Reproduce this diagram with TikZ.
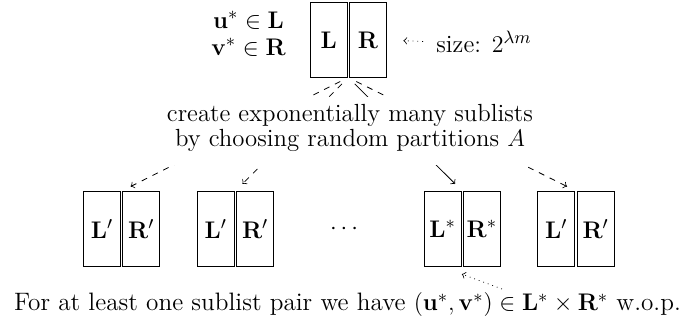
\documentclass[tikz,border=0pt]{standalone}
\usepackage{amsmath}
\usetikzlibrary{calc}
\tikzset{
  every node/.style={font=\fontsize{12.4pt}{14pt}\selectfont},
  lbox/.style={draw, line width=0.5pt, minimum width=18.5pt, minimum height=37.5pt, inner sep=0pt},
  fan/.style={->, dashed, shorten <=4.5pt, shorten >=5pt},
  fansolid/.style={->, shorten <=4.5pt, shorten >=5pt},
  txt/.style={inner sep=0pt, align=center}
}
\begin{document}
\begin{tikzpicture}[x=0.5pt,y=-0.5pt]
\useasboundingbox (0,0) rectangle (687,325);
% top pair
\node[lbox] (L) at (328.7,40) {$\mathbf{L}$};
\node[lbox] (R) at (368,40) {$\mathbf{R}$};
\coordinate (top) at (348.3,77.5);
\node[txt, font=\fontsize{12.4pt}{13.5pt}\selectfont] (uv) at (248.5,33.5) {$\mathbf{u}^*\in\mathbf{L}$\\$\mathbf{v}^*\in\mathbf{R}$};
\node[txt, anchor=west] (size) at (436,42) {size: $2^{\lambda m}$};
\draw[->, dotted, shorten >=8.2pt, shorten <=6.5pt] (size.west) -- (R.east);
% bottom pairs
\node[lbox] (L1) at (102,229) {$\mathbf{L}'$};
\node[lbox] (R1) at (141.3,229) {$\mathbf{R}'$};
\node[lbox] (L2) at (215.8,229) {$\mathbf{L}'$};
\node[lbox] (R2) at (255.1,229) {$\mathbf{R}'$};
\node[lbox] (L3) at (442.6,229) {$\mathbf{L}^*$};
\node[lbox] (R3) at (481.9,229) {$\mathbf{R}^*$};
\node[lbox] (L4) at (556.3,229) {$\mathbf{L}'$};
\node[lbox] (R4) at (595.6,229) {$\mathbf{R}'$};
\node[txt] (dots) at (346,229) {$\cdots$};
% arrows
\draw[fan] (top) -- ($(L1.north east)!0.5!(R1.north west)$);
\draw[fan] (top) -- ($(L2.north east)!0.5!(R2.north west)$);
\draw[fansolid] (top) -- ($(L3.north east)!0.5!(R3.north west)$);
\draw[fan] (top) -- ($(L4.north east)!0.5!(R4.north west)$);
% middle text (white ground hides the middle of the arrows)
\fill[white] (167,97) rectangle (534,165);
\node[txt, font=\fontsize{12.4pt}{12.5pt}\selectfont] (create) at (350,127.5)
  {create exponentially many sublists\\by choosing random partitions $A$};
% bottom text
\node[txt, font=\fontsize{12.6pt}{14pt}\selectfont] (bottom) at (347.5,305)
  {For at least one sublist pair we have $(\mathbf{u}^*,\mathbf{v}^*)\in\mathbf{L}^*\times\mathbf{R}^*$ w.o.p.};
\coordinate (in) at (502,289);
\draw[->, dotted, shorten >=10.3pt] (in) -- (L3.south);
\end{tikzpicture}
\end{document}
